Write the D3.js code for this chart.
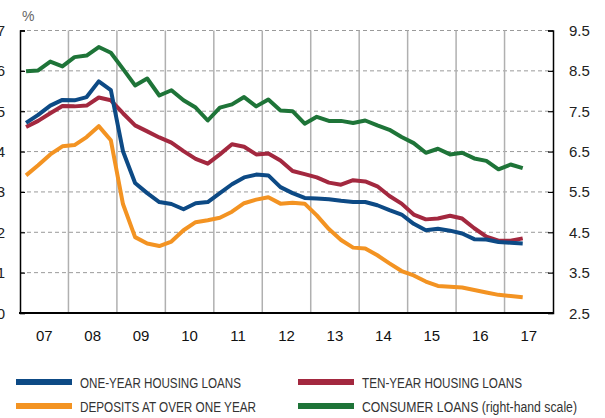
<!DOCTYPE html>
<html><head><meta charset="utf-8">
<script src="https://cdn.jsdelivr.net/npm/d3@7"></script>
<style>
html,body{margin:0;padding:0;background:#fff;}
svg{display:block;font-family:"Liberation Sans",Arial,sans-serif;}
</style></head>
<body>
<svg id="c" width="605" height="418"></svg>
<script>
// Quarterly observations, 2007 Q1 .. 2017 Q2
const yearLabels = ["07","08","09","10","11","12","13","14","15","16","17"];
const leftTicks = [0,1,2,3,4,5,6,7];
const rightTicks = [2.5,3.5,4.5,5.5,6.5,7.5,8.5,9.5];
const oneYearHousing = [4.71,4.91,5.14,5.28,5.27,5.35,5.74,5.52,4.01,3.22,2.97,2.75,2.70,2.57,2.72,2.75,2.97,3.19,3.36,3.43,3.41,3.12,2.97,2.85,2.84,2.82,2.78,2.75,2.75,2.67,2.55,2.44,2.21,2.05,2.09,2.04,1.97,1.83,1.82,1.76,1.74,1.72];
const tenYearHousing = [4.61,4.76,4.95,5.13,5.12,5.14,5.34,5.27,4.95,4.65,4.50,4.35,4.22,4.01,3.82,3.70,3.93,4.18,4.12,3.93,3.95,3.78,3.52,3.44,3.36,3.23,3.18,3.29,3.26,3.14,2.90,2.71,2.44,2.32,2.34,2.41,2.34,2.10,1.89,1.79,1.79,1.85];
const deposits = [3.41,3.66,3.93,4.13,4.16,4.36,4.63,4.28,2.70,1.88,1.72,1.66,1.77,2.05,2.25,2.30,2.36,2.51,2.72,2.81,2.87,2.71,2.73,2.71,2.42,2.08,1.81,1.62,1.60,1.43,1.23,1.04,0.93,0.78,0.67,0.65,0.63,0.57,0.51,0.45,0.42,0.39];
const consumer = [8.49,8.51,8.73,8.61,8.84,8.88,9.09,8.95,8.55,8.14,8.31,7.89,8.02,7.77,7.59,7.27,7.59,7.67,7.85,7.62,7.79,7.52,7.50,7.19,7.36,7.26,7.26,7.21,7.27,7.15,7.04,6.86,6.71,6.47,6.57,6.43,6.47,6.33,6.27,6.06,6.18,6.09];

const quarters = oneYearHousing.map((_, i) => 2007 + Math.floor(i/4) + ((i%4) + 0.5)/4);

const svg = d3.select("#c");
const L = 20, R = 553, T = 30.5, B = 313;
const x = d3.scaleLinear().domain([2007, 2018]).range([L, R]);
const yL = d3.scaleLinear().domain([0, 7]).range([B, T]);
const yR = d3.scaleLinear().domain([2.5, 9.5]).range([B, T]);

// horizontal dashed grid
svg.append("g").selectAll("line").data(leftTicks.filter(d => d > 0)).join("line")
  .attr("x1", L).attr("x2", R).attr("y1", d => yL(d)).attr("y2", d => yL(d))
  .attr("stroke", "#9a9a9a").attr("stroke-width", 1).attr("stroke-dasharray", "4,3");

// vertical year grid
const yearBounds = d3.range(2008, 2018);
svg.append("g").selectAll("line").data(yearBounds).join("line")
  .attr("x1", d => x(d)).attr("x2", d => x(d)).attr("y1", T).attr("y2", B)
  .attr("stroke", "#b0b0b0").attr("stroke-width", 1.5);

// axes
const leftAxis = d3.axisRight(yL).tickValues(leftTicks).tickSize(5).tickFormat("");
const gl = svg.append("g").attr("transform", `translate(${L},0)`).call(leftAxis);
gl.select(".domain").attr("stroke", "#000").attr("stroke-width", 1.5);
gl.selectAll(".tick line").attr("stroke", "#000").attr("stroke-width", 1.2);
svg.append("g").selectAll("text").data(leftTicks).join("text")
  .attr("x", 5).attr("y", d => yL(d) + 5.5).attr("text-anchor", "end")
  .attr("font-size", 15).attr("fill", "#222").text(d => d);

const rightAxis = d3.axisLeft(yR).tickValues(rightTicks).tickSize(5).tickFormat("");
const gr = svg.append("g").attr("transform", `translate(${R},0)`).call(rightAxis);
gr.select(".domain").attr("stroke", "#000").attr("stroke-width", 1.5);
gr.selectAll(".tick line").attr("stroke", "#000").attr("stroke-width", 1.2);
svg.append("g").selectAll("text").data(rightTicks).join("text")
  .attr("x", 569).attr("y", d => yR(d) + 5.5).attr("text-anchor", "start")
  .attr("font-size", 15).attr("fill", "#222").text(d => d.toFixed(1));

// bottom axis
svg.append("line").attr("x1", L - 1).attr("x2", R + 1).attr("y1", B).attr("y2", B)
  .attr("stroke", "#000").attr("stroke-width", 2.2);
svg.append("g").selectAll("text").data(yearLabels).join("text")
  .attr("x", (d, i) => x(2007 + i + 0.5)).attr("y", 341).attr("text-anchor", "middle")
  .attr("font-size", 15).attr("fill", "#111").text(d => d);

svg.append("text").attr("x", 22).attr("y", 21).attr("font-size", 14).attr("fill", "#666").text("%");

// series
const series = [
  {vals: deposits, color: "#f39322", y: yL},
  {vals: tenYearHousing, color: "#a3283f", y: yL},
  {vals: oneYearHousing, color: "#0d4a85", y: yL},
  {vals: consumer, color: "#1e7438", y: yR}
];
series.forEach(s => {
  const line = d3.line().x((d, i) => x(quarters[i])).y(d => s.y(d)).curve(d3.curveLinear);
  svg.append("path").datum(s.vals).attr("d", line).attr("fill", "none")
    .attr("stroke", s.color).attr("stroke-width", 4).attr("stroke-linejoin", "round");
});

// legend
const legend = [
  {label: "ONE-YEAR HOUSING LOANS", color: "#0d4a85", x: 16, y: 382, w: 161},
  {label: "TEN-YEAR HOUSING LOANS", color: "#a3283f", x: 298, y: 382, w: 160},
  {label: "DEPOSITS AT OVER ONE YEAR", color: "#f39322", x: 16, y: 406, w: 176},
  {label: "CONSUMER LOANS (right-hand scale)", color: "#1e7438", x: 298, y: 406, w: 215}
];
const lg = svg.append("g").selectAll("g").data(legend).join("g");
lg.append("rect").attr("x", d => d.x).attr("y", d => d.y - 3).attr("width", 56).attr("height", 6).attr("fill", d => d.color);
lg.append("text").attr("x", d => d.x + 64).attr("y", d => d.y + 5.5).attr("font-size", 14).attr("fill", "#333")
  .attr("textLength", d => d.w).attr("lengthAdjust", "spacingAndGlyphs").text(d => d.label);
</script>
</body></html>
